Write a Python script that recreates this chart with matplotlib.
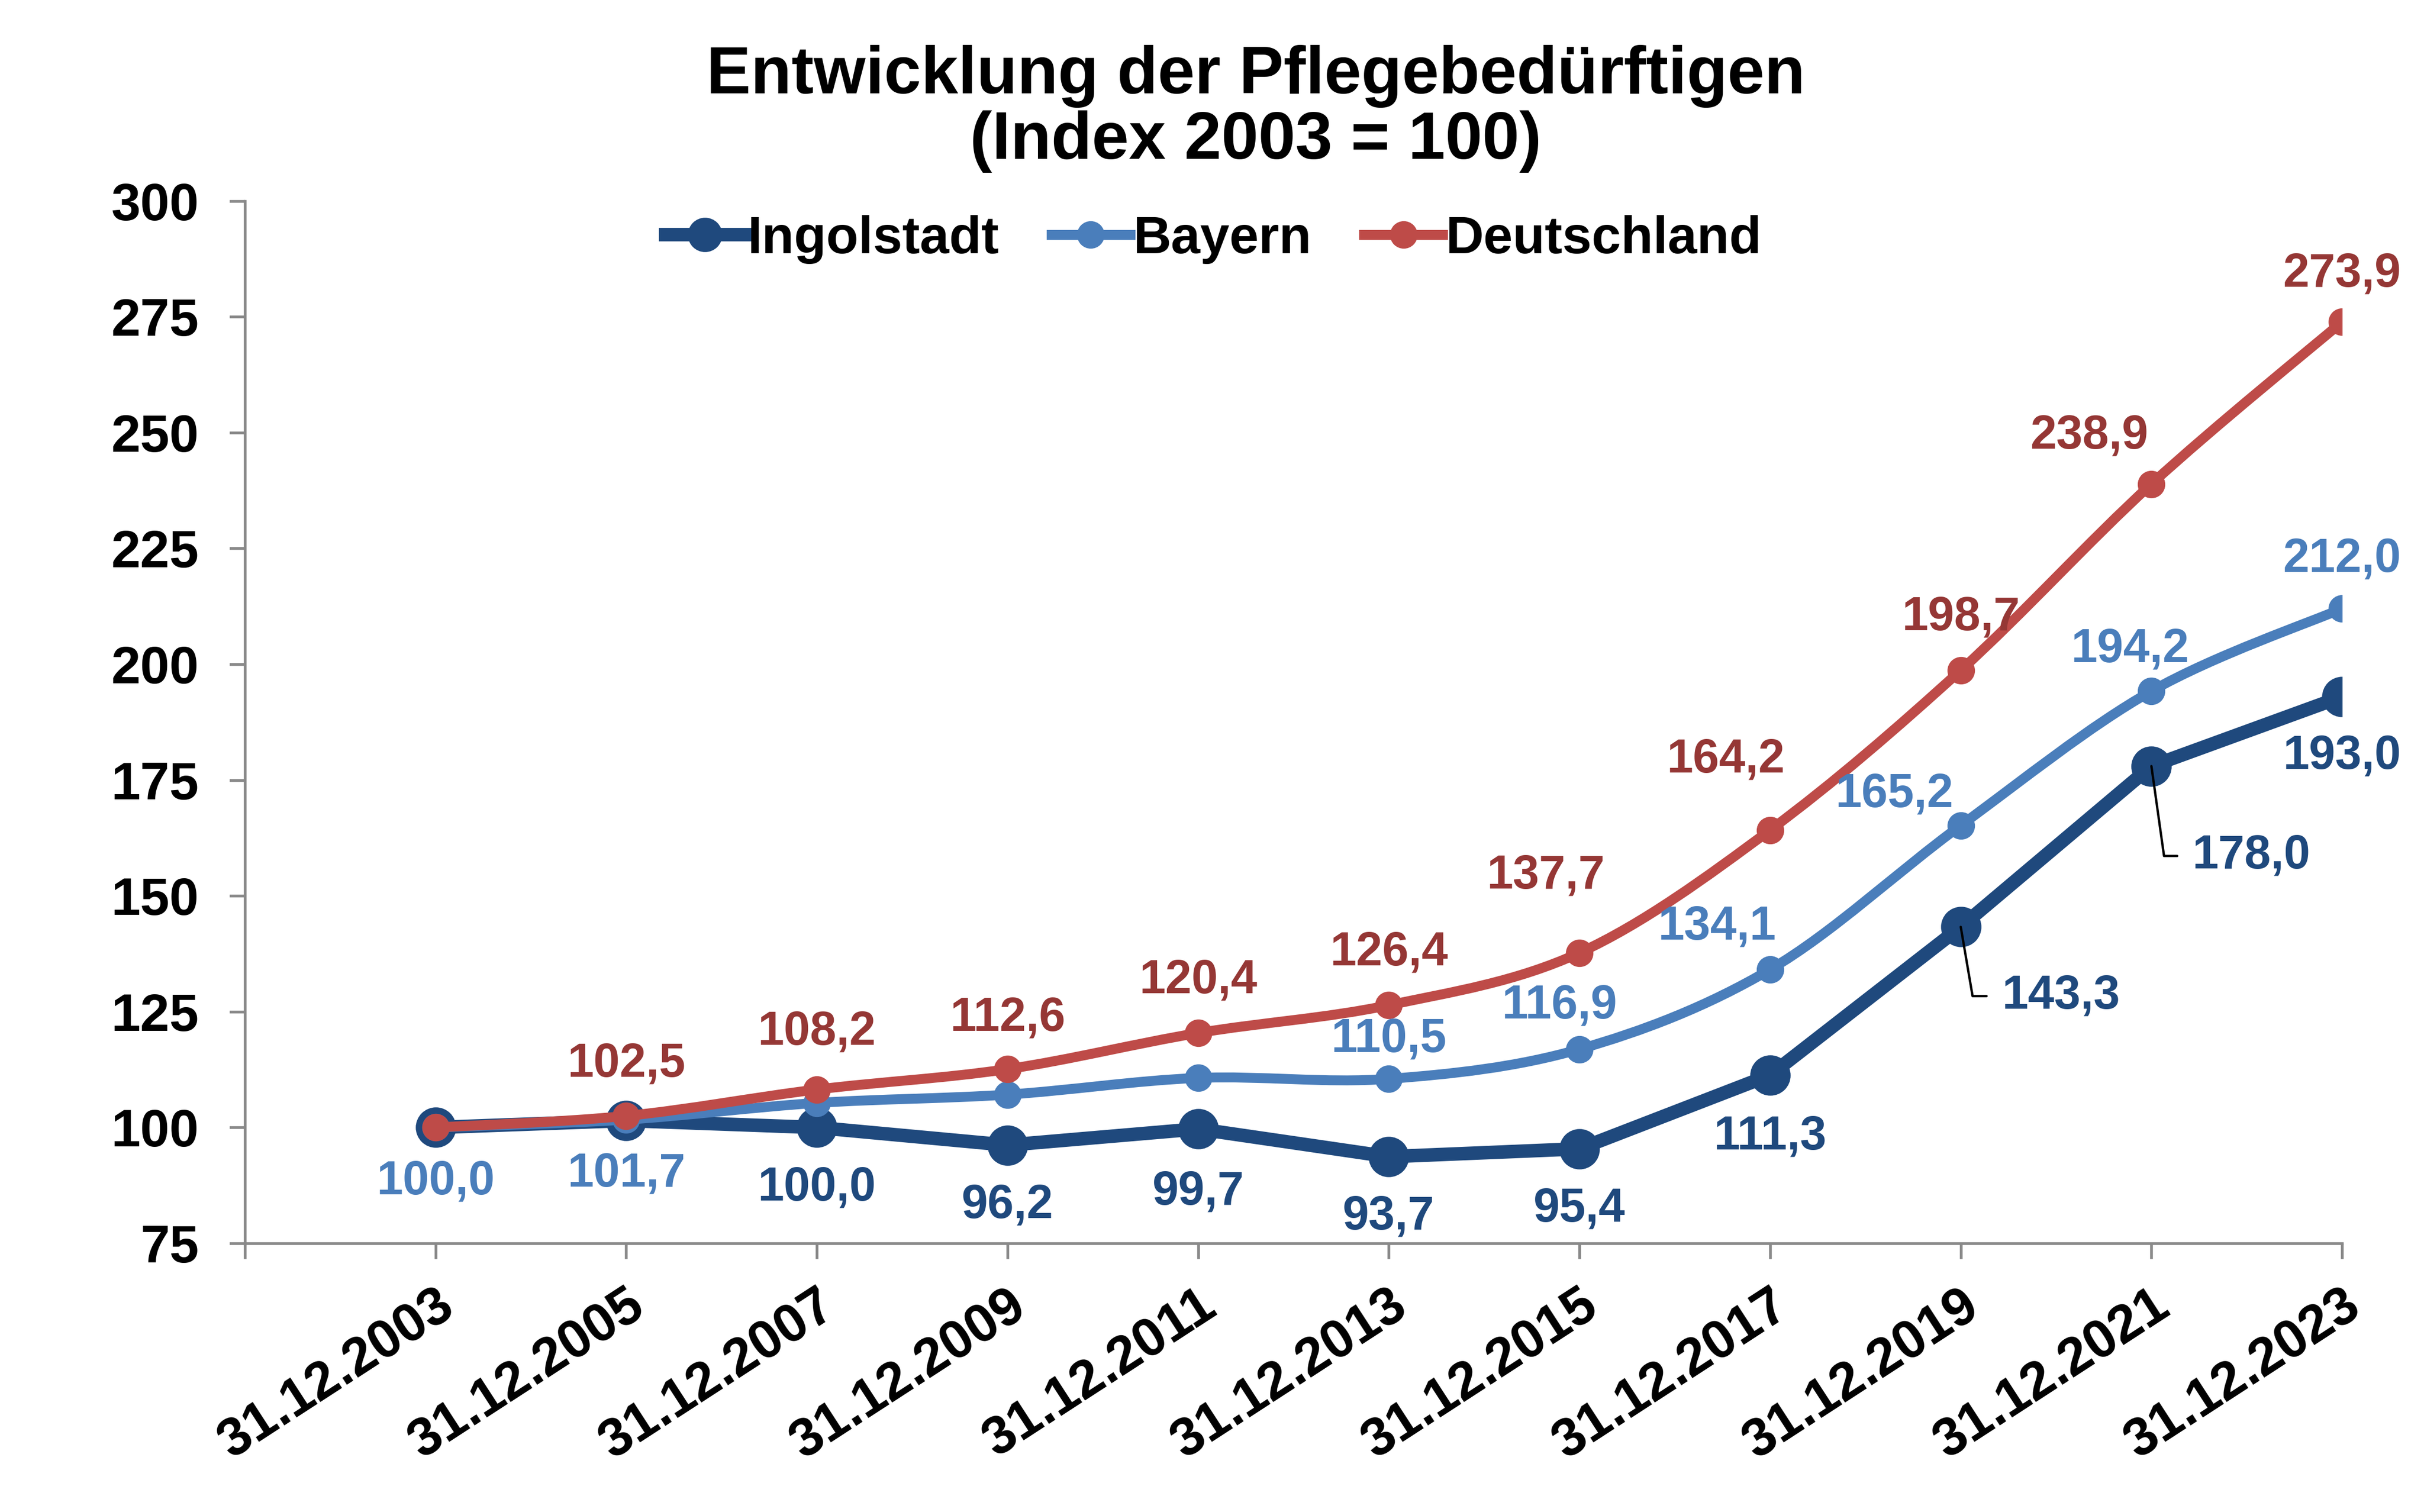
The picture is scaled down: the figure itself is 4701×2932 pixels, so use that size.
import matplotlib
matplotlib.use("Agg")
import matplotlib.pyplot as plt
from matplotlib.path import Path
from matplotlib.patches import PathPatch
from matplotlib.lines import Line2D

plt.rcParams['font.family'] = ['Liberation Sans', 'DejaVu Sans']
plt.rcParams['font.weight'] = 'bold'

# data
dates = ["31.12.2003", "31.12.2005", "31.12.2007", "31.12.2009", "31.12.2011",
         "31.12.2013", "31.12.2015", "31.12.2017", "31.12.2019", "31.12.2021",
         "31.12.2023"]
ingolstadt = [100.0, 101.5, 100.0, 96.2, 99.7, 93.7, 95.4, 111.3, 143.3, 178.0, 193.0]
bayern = [100.0, 101.7, 105.3, 107.1, 110.7, 110.5, 116.9, 134.1, 165.2, 194.2, 212.0]
deutschland = [100.0, 102.5, 108.2, 112.6, 120.4, 126.4, 137.7, 164.2, 198.7, 238.9, 273.9]

C_IN, C_BY, C_DE = "#1F497D", "#4A7EBB", "#BE4B48"
T_IN, T_BY, T_DE = "#1F497D", "#4A7EBB", "#953735"

# label offsets in points (None = no label)
off_in = [None, None, (0, -28), (0, -28), (0, -29.3), (0, -28), (0, -28), (0, -28.8),
          "lead", "lead", (0, -27.8)]
lead_in = {8: ((19, -32.2), 99.7), 9: ((19, -41.8), 98)}
off_by = [(0, -25.2), (0, -25.2), None, None, None, (0, 18.4), (-9.4, 20.2),
          (-24.7, 19.7), (-31, 14.4), (-10, 19.4), (0, 23)]
off_de = [None, (0, 24), (0, 26.6), (0, 23.8), (0, 24.5), (0, 24.5), (-15.8, 35.7),
          (-20.7, 32.6), (0, 24.5), (-28.8, 22.3), (0, 22.3)]


def smooth_path(xs, ys):
    # bezier curve through the points, like the spreadsheet "smoothed line"
    n = len(xs)
    pts = list(zip(xs, ys))
    verts = [pts[0]]
    codes = [Path.MOVETO]
    for i in range(n - 1):
        p0 = pts[i - 1] if i > 0 else pts[i]
        p1, p2 = pts[i], pts[i + 1]
        p3 = pts[i + 2] if i + 2 < n else p2
        c1 = (p1[0] + (p2[0] - p0[0]) / 6, p1[1] + (p2[1] - p0[1]) / 6)
        c2 = (p2[0] - (p3[0] - p1[0]) / 6, p2[1] - (p3[1] - p1[1]) / 6)
        verts += [c1, c2, p2]
        codes += [Path.CURVE4] * 3
    return Path(verts, codes)


fmt = lambda v: f"{v:.1f}".replace(".", ",")

fig = plt.figure(figsize=(4701 / 300, 2932 / 300), dpi=300)
ax = fig.add_axes([0.1010, 0.1777, 0.9662 - 0.1010, 0.8671 - 0.1777])
x = list(range(len(dates)))

# Ingolstadt (straight)
ax.plot(x, ingolstadt, color=C_IN, lw=6.3, marker="o", ms=17.8, zorder=2,
        solid_capstyle="round", solid_joinstyle="round")
# Bayern + Deutschland (smoothed)
for vals, col, z in [(bayern, C_BY, 3), (deutschland, C_DE, 4)]:
    ax.add_patch(PathPatch(smooth_path(x, vals), fill=False, edgecolor=col, lw=4.6,
                           capstyle="round", joinstyle="round", zorder=z))
    ax.plot(x, vals, linestyle="none", marker="o", ms=11.8, color=col, zorder=z)

# data labels
for vals, offs, col in [(deutschland, off_de, T_DE), (bayern, off_by, T_BY),
                        (ingolstadt, off_in, T_IN)]:
    for i, (v, o) in enumerate(zip(vals, offs)):
        if o is None or o == "lead":
            continue
        ax.annotate(fmt(v), (i, v), xytext=o, textcoords="offset points",
                    ha="center", va="center", fontsize=22, fontweight="bold",
                    color=col, zorder=6)
for i, (o, ang) in lead_in.items():
    ax.annotate(fmt(ingolstadt[i]), (i, ingolstadt[i]), xytext=o,
                textcoords="offset points", ha="left", va="center", fontsize=22,
                fontweight="bold", color=T_IN, zorder=6,
                arrowprops=dict(arrowstyle="-", color="black", lw=1.1, shrinkA=5,
                                shrinkB=0, relpos=(0, 0.5),
                                connectionstyle=f"angle,angleA=0,angleB={ang},rad=0"))

# axes
ax.set_xlim(-1, 10)
ax.set_ylim(75, 300)
ax.set_yticks(range(75, 301, 25))
ax.set_xticks(list(range(-1, len(dates))))
ax.set_xticklabels([""] + dates, rotation=33, ha="right", va="top",
                   rotation_mode="anchor")
for s in ["top", "right"]:
    ax.spines[s].set_visible(False)
for s in ["left", "bottom"]:
    ax.spines[s].set_color("#898989")
    ax.spines[s].set_linewidth(1.3)
ax.tick_params(axis="both", direction="out", length=7.3, width=1.3, color="#898989")
ax.tick_params(axis="y", pad=14, labelsize=24.5)
ax.tick_params(axis="x", pad=10, labelsize=25)
for lab in ax.get_xticklabels() + ax.get_yticklabels():
    lab.set_fontweight("bold")

fig.text(0.518, 0.928, "Entwicklung der Pflegebedürftigen\n(Index 2003 = 100)",
         ha="center", va="center", fontsize=31, fontweight="bold", linespacing=1.05)

handles = [
    Line2D([], [], color=C_IN, lw=6.3, marker="o", ms=15),
    Line2D([], [], color=C_BY, lw=4.6, marker="o", ms=11.8),
    Line2D([], [], color=C_DE, lw=4.6, marker="o", ms=11.8),
]
fig.legend(handles, ["Ingolstadt", "Bayern", "Deutschland"], loc="center",
           bbox_to_anchor=(0.5006, 0.8415), ncol=3, frameon=False,
           prop={"size": 24.5, "weight": "bold"}, handlelength=1.5,
           handletextpad=0.05, columnspacing=1.0)

fig.savefig("out.png", dpi=300)
